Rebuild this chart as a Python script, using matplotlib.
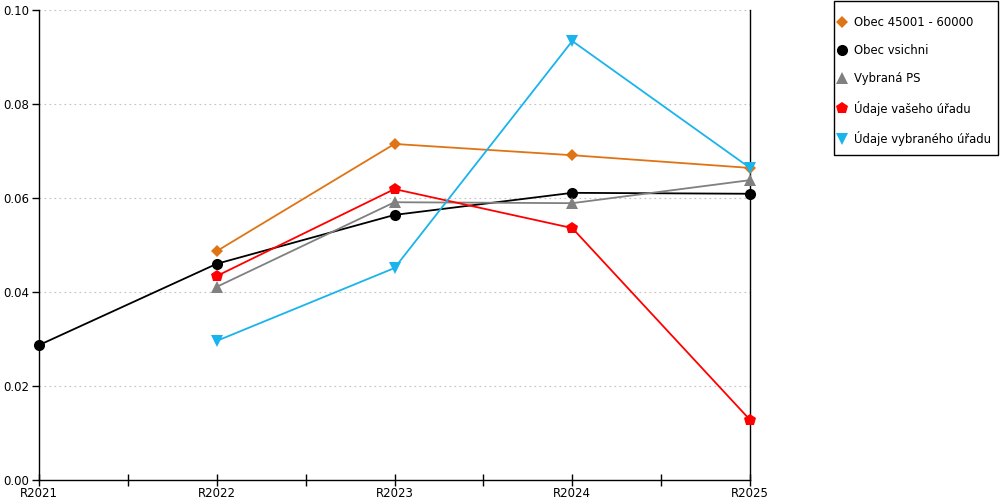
import matplotlib
matplotlib.use("Agg")
import matplotlib.pyplot as plt
from matplotlib.patches import Rectangle
import numpy as np

years = ["R2021", "R2022", "R2023", "R2024", "R2025"]
obec_45001 = [None, 0.0487, 0.0715, 0.0691, 0.0664]
obec_vsichni = [0.0287, 0.0460, 0.0564, 0.0611, 0.0609]
vybrana_ps = [None, 0.0411, 0.0591, 0.0589, 0.0638]
udaje_vaseho = [None, 0.0434, 0.0619, 0.0536, 0.0128]
udaje_vybraneho = [None, 0.0296, 0.0451, 0.0934, 0.0664]

series = [
    ("Obec 45001 - 60000", obec_45001, "#E07414", "D", 6.5),
    ("Obec vsichni", obec_vsichni, "#000000", "o", 8),
    ("Vybraná PS", vybrana_ps, "#808080", "^", 8),
    ("Údaje vašeho úřadu", udaje_vaseho, "#FF0000", "p", 9),
    ("Údaje vybraného úřadu", udaje_vybraneho, "#19B4EC", "v", 8),
]

plt.rcParams['font.family'] = ['DejaVu Sans']
fig = plt.figure(figsize=(10, 5), dpi=100)
ax = fig.add_axes([0.039, 0.04, 0.711, 0.94])

x = np.arange(len(years))
handles = []
for name, vals, color, marker, ms in series:
    xs = [xi for xi, v in zip(x, vals) if v is not None]
    ys = [v for v in vals if v is not None]
    ax.plot(xs, ys, color=color, lw=1.3, zorder=3)
    h = ax.plot(xs, ys, color=color, lw=0, marker=marker, markersize=ms,
                markeredgewidth=0, zorder=4, label=name, clip_on=False)[0]
    handles.append(h)

ax.set_xlim(0, len(years) - 1)
ax.set_ylim(0, 0.10)
ax.set_xticks(x)
ax.set_xticklabels(years, fontsize=8.5)
ax.set_xticks(x[:-1] + 0.5, minor=True)
ax.set_yticks(np.arange(0, 0.101, 0.02))
ax.set_yticklabels([f"{v:.2f}" for v in np.arange(0, 0.101, 0.02)], fontsize=8.5)
ax.tick_params(axis='x', which='both', direction='inout', length=8, width=1, pad=1)
ax.tick_params(axis='y', direction='out', length=5, width=1, pad=2)
ax.yaxis.grid(True, color='#C0C0C0', linestyle=(0, (1.5, 3)), lw=0.8)
ax.set_axisbelow(True)
ax.spines['top'].set_visible(False)
for s in ['left', 'bottom', 'right']:
    ax.spines[s].set_color('black')
    ax.spines[s].set_linewidth(1)

leg = fig.legend(handles=handles, loc='upper left', bbox_to_anchor=(0.837, 0.968),
                 frameon=False, fontsize=8.4,
                 handlelength=0.8, handletextpad=0.7, labelspacing=1.3,
                 borderpad=0, borderaxespad=0)

fig.patches.append(Rectangle((0.834, 0.69), 0.164, 0.308, transform=fig.transFigure,
                             fill=False, edgecolor='black', lw=1))

fig.savefig("out.png", dpi=100)
